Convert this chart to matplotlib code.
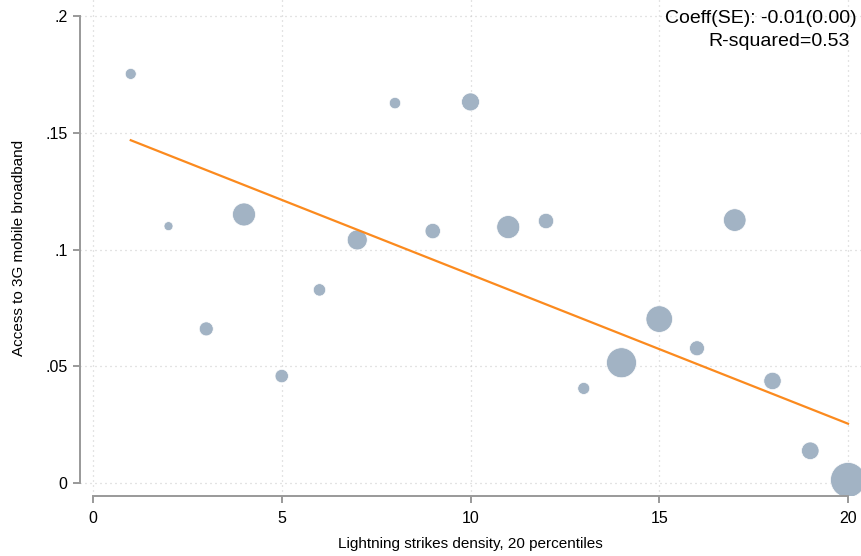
import numpy as np
import matplotlib
matplotlib.use('Agg')
import matplotlib.pyplot as plt

# data
pctile = [1, 2, 3, 4, 5, 6, 7, 8, 9, 10, 11, 12, 13, 14, 15, 16, 17, 18, 19, 20]
access_3g = [0.1752, 0.1100, 0.0660, 0.1150, 0.0458, 0.0827, 0.1041, 0.1627, 0.1079, 0.1632,
             0.1096, 0.1122, 0.0405, 0.0515, 0.0702, 0.0577, 0.1126, 0.0437, 0.0138, 0.0013]
bubble_r = [5.5, 4.5, 7.0, 11.5, 6.7, 6.2, 10.0, 5.7, 7.7, 9.0,
            11.5, 7.7, 6.0, 15.0, 13.3, 7.5, 11.3, 8.7, 8.8, 17.5]
fit_x = [1, 20]
fit_y = [0.1468, 0.0254]
xticks = [0, 5, 10, 15, 20]
yticks = [0, 0.05, 0.1, 0.15, 0.2]
ytick_labels = ['0', '.05', '.1', '.15', '.2']

plt.rcParams['font.family'] = ['Liberation Sans', 'DejaVu Sans']

W, H = 861, 556
fig = plt.figure(figsize=(W / 100, H / 100), dpi=100)

# axes box in pixels: left spine at 80, bottom spine at 496
ax = fig.add_axes([80 / W, (H - 496) / H, (W - 80) / W, 496 / H])
px_per_x = (848 - 93) / 20
px_per_y = (483 - 16) / 0.2
ax.set_xlim((80 - 93) / px_per_x, (W - 93) / px_per_x)
ax.set_ylim((483 - 496) / px_per_y, 483 / px_per_y)

grid_col = '#c8c8c8'
for t in xticks:
    ax.axvline(t, color=grid_col, lw=0.9, ls=(0, (0.8, 3.2)), zorder=0)
for t in yticks:
    ax.axhline(t, color=grid_col, lw=0.9, ls=(0, (0.8, 3.2)), zorder=0)

sizes = [(1.44 * r) ** 2 for r in bubble_r]
ax.scatter(pctile, access_3g, s=sizes, color='#a2b3c4', edgecolors='white',
           linewidths=0.5, zorder=2)
ax.plot(fit_x, fit_y, color='#fb8a1e', lw=1.6, zorder=3)

spine_col = '#999999'
for side in ['top', 'right']:
    ax.spines[side].set_visible(False)
ax.spines['left'].set_bounds(0, 0.2)
ax.spines['bottom'].set_bounds(0, 20)
for side in ['left', 'bottom']:
    ax.spines[side].set_color(spine_col)
    ax.spines[side].set_linewidth(1.4)

ax.set_xticks(xticks)
ax.set_xticklabels([str(t) for t in xticks])
ax.set_yticks(yticks)
ax.set_yticklabels(ytick_labels)
ax.tick_params(axis='both', color=spine_col, width=1.4, length=5, labelsize=11.5,
               labelcolor='black')
ax.tick_params(axis='x', pad=6)
ax.tick_params(axis='y', pad=4)

ax.set_xlabel('Lightning strikes density, 20 percentiles', fontsize=11, labelpad=8)
ax.set_ylabel('Access to 3G mobile broadband', fontsize=11, labelpad=14)

fig.text(857 / W, 1 - 23 / H, 'Coeff(SE): -0.01(0.00)', ha='right', va='baseline', fontsize=14)
fig.text(850 / W, 1 - 46 / H, 'R-squared=0.53', ha='right', va='baseline', fontsize=14)

fig.savefig('out.png', dpi=100)
